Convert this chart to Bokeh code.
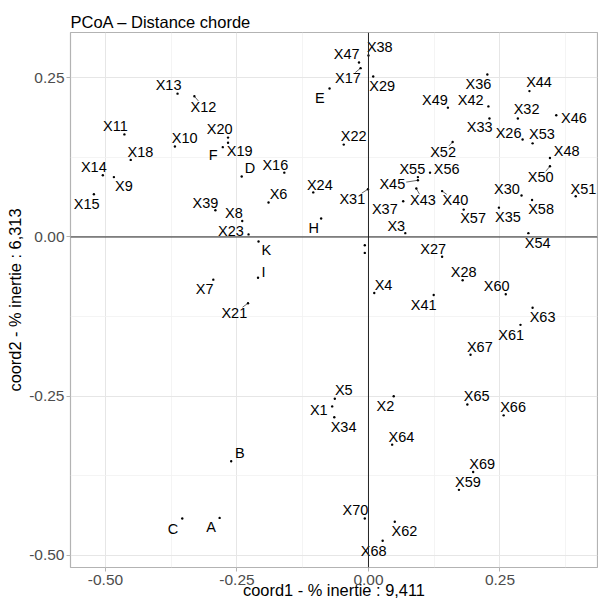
import math
from bokeh.plotting import figure
from bokeh.models import ColumnDataSource, Range1d, FixedTicker, Span, NumeralTickFormatter
from bokeh.core.properties import value
from bokeh.embed import file_html
from bokeh.resources import INLINE

# ---------------- data ----------------
names = ["X1", "X2", "X3", "X4", "X5", "X6", "X7", "X8", "X9", "X10",
         "X11", "X12", "X13", "X14", "X15", "X16", "X17", "X18", "X19", "X20",
         "X21", "X22", "X23", "X24", "X26", "X27", "X28", "X29", "X30",
         "X31", "X32", "X33", "X34", "X35", "X36", "X37", "X38", "X39", "X40",
         "X41", "X42", "X43", "X44", "X45", "X46", "X47", "X48", "X49", "X50",
         "X51", "X52", "X53", "X54", "X55", "X56", "X57", "X58", "X59", "X60",
         "X61", "X62", "X63", "X64", "X65", "X66", "X67", "X68", "X69", "X70",
         "A", "B", "C", "D", "E", "F", "H", "I", "K", "G", "J"]
coord1 = [-0.069, 0.048, 0.070, 0.011, -0.064, -0.190, -0.295, -0.240, -0.484, -0.368,
          -0.464, -0.331, -0.363, -0.505, -0.522, -0.160, -0.015, -0.452, -0.267, -0.267,
          -0.229, -0.047, -0.228, -0.105, 0.293, 0.140, 0.179, 0.009, 0.291,
          -0.001, 0.284, 0.230, -0.065, 0.248, 0.226, 0.066, 0.000, -0.291, 0.140,
          0.124, 0.228, 0.091, 0.306, 0.094, 0.357, -0.018, 0.345, 0.151, 0.345,
          0.394, 0.160, 0.312, 0.304, 0.094, 0.117, 0.181, 0.311, 0.172, 0.261,
          0.289, 0.050, 0.312, 0.045, 0.188, 0.257, 0.194, 0.027, 0.199, -0.007,
          -0.283, -0.261, -0.354, -0.241, -0.074, -0.277, -0.090, -0.210, -0.209, -0.007, -0.007]
coord2 = [-0.266, -0.250, 0.006, -0.088, -0.254, 0.054, -0.067, 0.025, 0.094, 0.142,
          0.161, 0.221, 0.225, 0.097, 0.067, 0.101, 0.265, 0.121, 0.148, 0.156,
          -0.104, 0.145, 0.004, 0.070, 0.153, -0.031, -0.068, 0.252, 0.065,
          0.075, 0.186, 0.186, -0.283, 0.046, 0.255, 0.056, 0.285, 0.042, 0.072,
          -0.091, 0.205, 0.076, 0.229, 0.089, 0.191, 0.274, 0.124, 0.203, 0.111,
          0.064, 0.149, 0.147, 0.006, 0.094, 0.101, 0.043, 0.058, -0.397, -0.090,
          -0.138, -0.447, -0.111, -0.326, -0.263, -0.280, -0.185, -0.477, -0.369, -0.442,
          -0.441, -0.352, -0.442, 0.095, 0.233, 0.141, 0.029, -0.064, -0.007, -0.013, -0.025]
unlabelled = ["G", "J"]

x_ticks = [-0.50, -0.25, 0.00, 0.25]
x_tick_labels = ["-0.50", "-0.25", "0.00", "0.25"]
y_ticks = [-0.50, -0.25, 0.00, 0.25]
y_tick_labels = ["-0.50", "-0.25", "0.00", "0.25"]
x_minor = [-0.375, -0.125, 0.125, 0.375]
y_minor = [-0.375, -0.125, 0.125]

title_text = "PCoA \u2013 Distance chorde"
x_title = "coord1 - % inertie : 9,411"
y_title = "coord2 - % inertie : 6,313"

# ---------------- layout: label offsets (screen px, label centre minus point) ----------------
label_offsets = {
    "X1": (-13.4, 4), "X2": (-8.3, 10), "X3": (-9, -6.7), "X4": (9.3, -8), "X5": (9, -8.3),
    "X6": (10, -8.3), "X7": (-8.7, 9), "X8": (-8.4, -8), "X9": (10, 9.3), "X10": (9.7, -8.7),
    "X11": (-9, -8.3), "X12": (9, 10.7), "X13": (-9, -8.3), "X14": (-9, -8), "X15": (-7.3, 9.3),
    "X16": (-9, -8), "X17": (-12.7, 10.3), "X18": (9.7, -8.3), "X19": (11.6, 8.7), "X20": (-8.4, -8.3),
    "X21": (-13.7, 10), "X22": (10, -9), "X23": (-17.6, -3.6), "X24": (6.6, -7.4), "X26": (-14, -6.6),
    "X27": (-9, -7.7), "X28": (1, -8.3), "X29": (9, 9.3), "X30": (-14.6, -6.7), "X31": (-15.6, 10),
    "X32": (8.7, -9), "X33": (-9.7, 9), "X34": (9.3, 10), "X35": (9, 9.4), "X36": (-9, 9.3),
    "X37": (-18.4, 7.3), "X38": (11.3, -8.3), "X39": (-10, -7.7), "X40": (13.3, 9.3), "X41": (-10, 9.7),
    "X42": (-17.7, -6), "X43": (6.6, 11.7), "X44": (9.6, -9), "X45": (-25.6, 4), "X46": (17.6, 2.3),
    "X47": (-12.3, -8), "X48": (16.7, -6.7), "X49": (-13, -8), "X50": (-9.3, 11), "X51": (7.7, -7.7),
    "X52": (-9.6, 10), "X53": (9.4, -9.4), "X54": (9.3, 9.6), "X55": (-5.6, -8.4), "X56": (16.7, -4),
    "X57": (9.4, 8.4), "X58": (9, 9), "X59": (9, -8.3), "X60": (-9, -8), "X61": (-9.3, 9.7),
    "X62": (9.7, 9.7), "X63": (10, 9.4), "X64": (9.3, -7.6), "X65": (9.3, -8.3), "X66": (9.4, -8.3),
    "X67": (9.3, -8.3), "X68": (-9, 10), "X69": (9, -8.4), "X70": (-9.3, -8.3),
    "A": (-8.6, 9.4), "B": (8.6, -7.7), "C": (-9.4, 10), "D": (8.3, -8.7), "E": (-9.7, 9.4),
    "F": (-9.6, 8.3), "H": (-7.4, 10), "I": (5.6, -5.6), "K": (7.7, 9),
}

W, H = 598, 601
BL, BR, BT, BB = 70, 1, 32, 34
FW, FH = W - BL - BR, H - BT - BB
xr = (-0.5665, 0.4354)
yr = (-0.5189, 0.3210)
sx = FW / (xr[1] - xr[0])
sy = FH / (yr[1] - yr[0])

FONT = "Liberation Sans"
LBL_SIZE = 14.5

p = figure(width=W, height=H, output_backend="svg", toolbar_location=None,
           x_range=Range1d(*xr), y_range=Range1d(*yr),
           min_border_left=BL, min_border_right=BR, min_border_top=BT, min_border_bottom=BB,
           background_fill_color="white", border_fill_color="white")

p.outline_line_color = "#B3B3B3"
p.outline_line_width = 1.2

# title
p.title.text = title_text
p.title.text_font = FONT
p.title.text_font_size = "16.5px"
p.title.text_font_style = "normal"
p.title.text_color = "black"
p.title.align = "left"
p.title.standoff = 3
p.title.offset = 0

# axes
for ax, ticks, minor, labs in ((p.xaxis[0], x_ticks, x_minor, x_tick_labels),
                               (p.yaxis[0], y_ticks, y_minor, y_tick_labels)):
    ax.ticker = FixedTicker(ticks=ticks, minor_ticks=minor)
    ax.formatter = NumeralTickFormatter(format="0.00")
    ax.major_label_overrides = {t: l for t, l in zip(ticks, labs)}
    ax.axis_line_color = None
    ax.major_tick_line_color = "#B3B3B3"
    ax.major_tick_line_width = 1
    ax.major_tick_in = 0
    ax.major_tick_out = 4
    ax.minor_tick_line_color = None
    ax.major_label_text_font = FONT
    ax.major_label_text_font_size = "15.5px"
    ax.major_label_text_color = "#4D4D4D"
    ax.axis_label_text_font = FONT
    ax.axis_label_text_font_size = "16.4px"
    ax.axis_label_text_font_style = "normal"
    ax.axis_label_text_color = "black"

p.xaxis.major_label_standoff = 3
p.yaxis.major_label_standoff = 2
p.yaxis.axis_label = y_title
p.yaxis.axis_label_standoff = 2
p.xaxis.axis_label = x_title
p.xaxis.axis_label_standoff = -7

for g in (p.xgrid[0], p.ygrid[0]):
    g.grid_line_color = "#E6E6E6"
    g.grid_line_width = 1
    g.minor_grid_line_color = "#F1F1F1"
    g.minor_grid_line_width = 0.8

p.add_layout(Span(location=0, dimension="height", line_color="#222222", line_width=1))
p.add_layout(Span(location=0, dimension="width", line_color="#222222", line_width=1))

# points
p.scatter(coord1, coord2, size=2.4, color="black", line_color=None)

# labels + repel segments
lx, ly, lt, ldx, ldy = [], [], [], [], []
segx0, segy0, segx1, segy1 = [], [], [], []
for n, x, y in zip(names, coord1, coord2):
    if n in unlabelled:
        continue
    dx, dy = label_offsets[n]
    lx.append(x); ly.append(y); lt.append(n); ldx.append(dx); ldy.append(dy)
    wid = sum(0.667 * LBL_SIZE if c.isalpha() and c.isupper() else 0.556 * LBL_SIZE for c in n)
    hw, hh = wid / 2 + 1, 6.0
    t = min(hw / abs(dx) if dx else 1e9, hh / abs(dy) if dy else 1e9)
    ex, ey = dx * (1 - t), dy * (1 - t)
    if math.hypot(ex, ey) > 5.5:
        segx0.append(x); segy0.append(y)
        segx1.append(x + ex / sx); segy1.append(y - ey / sy)

p.segment(segx0, segy0, segx1, segy1, line_color="black", line_width=0.6)

src = ColumnDataSource(dict(x=lx, y=ly, t=lt, dx=ldx, dy=ldy))
p.text(x="x", y="y", text="t", x_offset="dx", y_offset="dy", source=src,
       text_font=value(FONT), text_font_size=f"{LBL_SIZE}px", text_color="black",
       text_align="center", text_baseline="middle")

open("out.html", "w").write(file_html(p, INLINE))
